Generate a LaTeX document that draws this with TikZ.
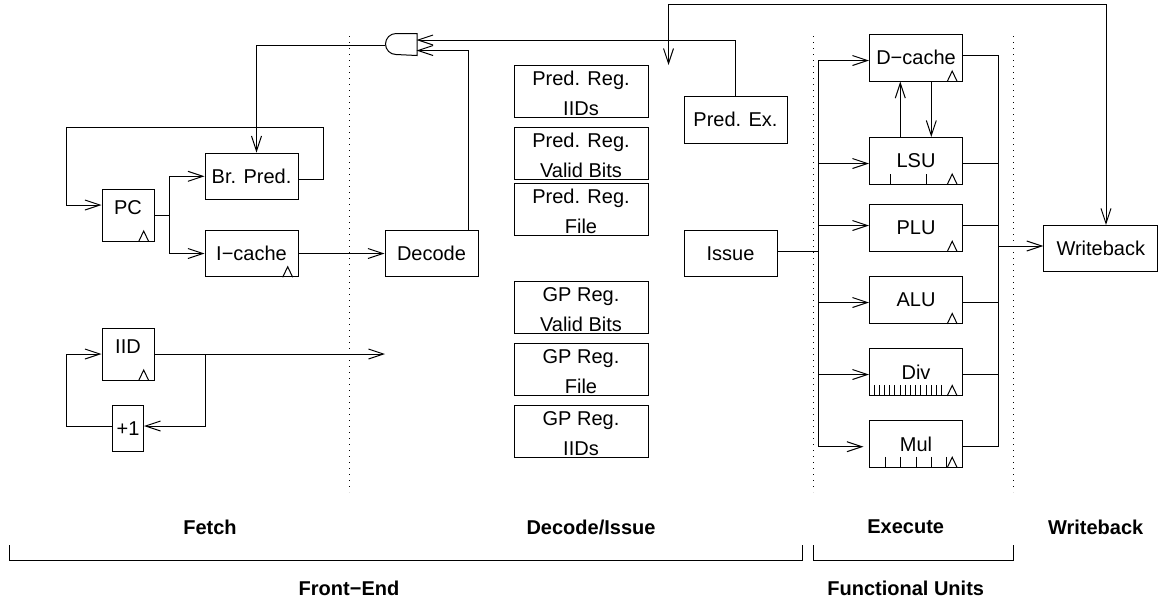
\documentclass[tikz,border=0pt]{standalone}
\usepackage{fontspec}
\setmainfont{Liberation Sans}
\usetikzlibrary{arrows.meta}
\tikzset{
  block/.style={draw,inner sep=0pt,minimum width=46.5pt,minimum height=23.25pt},
  regbox/.style={block,minimum width=67pt,minimum height=26pt,align=center,text height=24.2pt,font=\fontsize{10}{15}\selectfont},
  reg/.style={block,minimum width=26pt,minimum height=26pt,text depth=7pt},
  stage/.style={font=\bfseries,inner sep=0pt},
  arr/.style={-{Straight Barb[length=7.5pt,width=5pt]}},
  twoway/.style={{Straight Barb[length=7.5pt,width=5pt]}-{Straight Barb[length=7.5pt,width=5pt]}},
  sep/.style={dash pattern=on 0.5pt off 2.5pt}
}
\begin{document}
\begin{tikzpicture}[x=0.5pt,y=-0.5pt,line width=0.5pt]
  \useasboundingbox (0,0) rectangle (1158,602);
  % fetch
  \node[reg] (pc) at (128,215) {PC};
  \node[block] (brpred) at (251.5,176.3) {Br. Pred.};
  \node[block] (icache) at (251.5,253.5) {I−cache};
  \node[reg] (iid) at (128,354) {IID};
  \node[block,minimum width=15.5pt] (incr) at (128,428.7) {+1};
  \node[block] (decode) at (431.5,253.5) {Decode};
  \node[inner sep=0pt,minimum width=15.75pt,minimum height=10.5pt] (gate) at (400.75,44.5) {};
  \draw (gate.north east) -- ++(-10.5pt,0pt) arc[start angle=90,end angle=270,radius=5.25pt] -- (gate.south east) -- cycle;
  % registers
  \node[regbox] (predi) at (581,91.3) {Pred. Reg.\\IIDs};
  \node[regbox] (predv) at (581,153.2) {Pred. Reg.\\Valid Bits};
  \node[regbox] (predf) at (581,209.8) {Pred. Reg.\\File};
  \node[regbox] (gpv) at (581,307.8) {GP Reg.\\Valid Bits};
  \node[regbox] (gpf) at (581,369.2) {GP Reg.\\File};
  \node[regbox] (gpi) at (581,431) {GP Reg.\\IIDs};
  \node[block,minimum width=51.5pt] (predex) at (735.5,119.8) {Pred. Ex.};
  \node[block] (issue) at (730.5,253.5) {Issue};
  % functional units
  \node[block] (dcache) at (916,57.8) {D−cache};
  \node[block] (lsu) at (916,160.8) {LSU};
  \node[block] (plu) at (916,228) {PLU};
  \node[block] (alu) at (916,300.2) {ALU};
  \node[block] (div) at (916,372.2) {Div};
  \node[block] (mul) at (916,444) {Mul};
  \node[block,minimum width=57pt] (wb) at (1100.8,248.7) {Writeback};
  % clock marks and pipeline stages
  \foreach \name in {pc,iid,icache,dcache,lsu,plu,alu,div,mul} {
    \draw ([xshift=-7.9pt]\name.south east) -- ([xshift=-5.4pt,yshift=5.25pt]\name.south east) -- ([xshift=-2.9pt]\name.south east);
  }
  \foreach \x in {890,926} { \draw (\x,174) -- (\x,184.4); }
  \foreach \x in {885,900.4,916,931.4,946.7} { \draw (\x,456.8) -- (\x,467.2); }
  \foreach \i in {0,...,13} { \draw ({874+5.2*\i},385.3) -- ({874+5.2*\i},395.4); }
  \coordinate (pcout) at (169,215);
  \coordinate (pcfb) at (66,205);
  \coordinate (brfb) at (323,179);
  \coordinate (gateout) at (256.5,45);
  \coordinate (predin) at (416.5,40);
  \coordinate (decin) at (416.5,50.5);
  \coordinate (iidend) at (385,354);
  \coordinate (iidtap) at (205,354);
  \coordinate (incrleft) at (66,426);
  \coordinate (busin) at (818,251);
  \coordinate (wbtap) at (998.7,246);
  \coordinate (wbtop) at (1106,4);
  \coordinate (wbend) at (668.5,65);
  % fetch wires
  \draw (pc.east |- pcout) -- (pcout);
  \draw[arr] (pcout) |- (brpred.west);
  \draw[arr] (pcout) |- (icache.west);
  \draw[arr] (brpred.east |- brfb) -- (brfb) -- (323,127) -- (66,127) -- (pcfb) -- (pc.west |- pcfb);
  \draw[arr] (gate.west |- gateout) -- (gateout) -- (gateout |- brpred.north);
  \draw[arr] (icache.east) -- (decode.west);
  \draw[arr] (decode.north -| 468,0) -- (468,50.5) -- (decin);
  \draw[arr] (iid.east) -- (iidend);
  \draw[arr] (iidtap) -- (205,426) -- (incr.east |- incrleft);
  \draw[arr] (incr.west |- incrleft) -- (incrleft) -- (66,354) -- (iid.west);
  % predicates and writeback
  \draw[arr] (predex.north) -- (735.5,40) -- (predin);
  \draw[twoway] (wb.north -| wbtop) -- (wbtop) -- (668.5,4) -- (wbend);
  % issue bus
  \draw (issue.east |- busin) -- (busin);
  \draw (818,60.5) -- (818,446.7);
  \foreach \name/\y in {dcache/60.5,lsu/163.5,plu/225.5,alu/302.5,div/374.5} {
    \draw[arr] (818,\y) -- (\name.west |- 0,\y);
  }
  \draw[arr] (818,446.7) -- (863.5,446.7);
  % result bus
  \draw (998.7,55.5) -- (998.7,446.7);
  \foreach \name/\y in {dcache/55.5,lsu/163.5,plu/225.5,alu/302.5,div/374.5,mul/446.7} {
    \draw (\name.east |- 0,\y) -- (998.7,\y);
  }
  \draw[arr] (wbtap) -- (wb.west |- wbtap);
  \draw[arr] (lsu.north -| 900.3,0) -- (dcache.south -| 900.3,0);
  \draw[arr] (dcache.south -| 931.3,0) -- (lsu.north -| 931.3,0);
  % stage boundaries
  \foreach \x in {349.5,813,1013.7} { \draw[sep] (\x,36) -- (\x,492); }
  \draw (9.5,545) -- (9.5,560) -- (802.3,560) -- (802.3,545);
  \draw (813,545) -- (813,560) -- (1013.7,560) -- (1013.7,545);
  \node[stage] (fetch) at (210,527) {Fetch};
  \node[stage] (decis) at (591,527) {Decode/Issue};
  \node[stage] (exec) at (905.7,527) {Execute};
  \node[stage] (wblab) at (1095.7,527) {Writeback};
  \node[stage] (front) at (349,588) {Front−End};
  \node[stage] (funits) at (905.7,588) {Functional Units};
\end{tikzpicture}
\end{document}
